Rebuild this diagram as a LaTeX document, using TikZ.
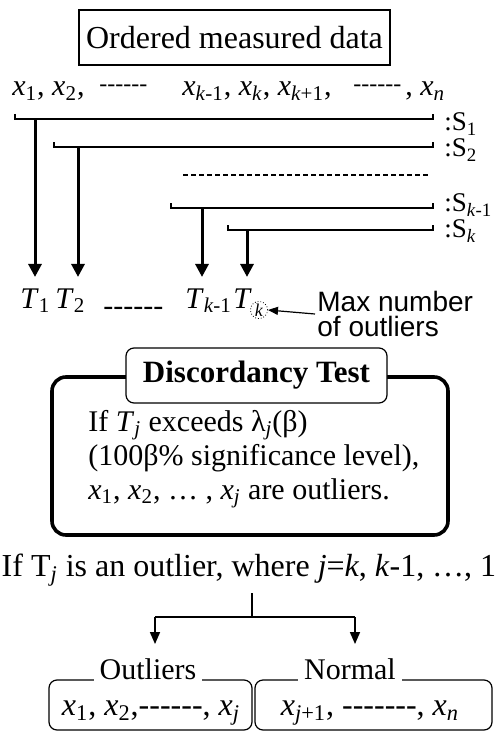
\documentclass[tikz,border=0pt]{standalone}
\usepackage{fontspec}
\setmainfont{Liberation Serif}
\newfontfamily\labelsans{Liberation Sans}
\usetikzlibrary{arrows.meta,calc}

\newcommand{\vsub}[2]{\textit{#1}\textsubscript{#2}}
\newcommand{\dashes}{-{}-{}-{}-{}-{}-}
\newcommand{\dashesseven}{-{}-{}-{}-{}-{}-{}-}

\tikzset{
  titlebox/.style={
    draw,
    line width=0.6pt,
    minimum width=155.5pt,
    minimum height=27.5pt,
    font=\fontsize{16}{18}\selectfont
  },
  datarow/.style={
    anchor=base west,
    inner sep=0pt
  },
  smalldash/.style={
    anchor=base west,
    inner sep=0pt,
    font=\fontsize{12}{14}\selectfont
  },
  bracket/.style={
    line width=0.8pt
  },
  heavyarrow/.style={
    line width=1.5pt,
    -{Triangle[length=6.5pt,width=6.5pt]},
    shorten >=5.5pt
  },
  thinarrow/.style={
    line width=0.8pt,
    -{Triangle[length=6pt,width=5pt]}
  },
  testframe/.style={
    line width=1.8pt,
    rounded corners=7pt
  },
  testtitle/.style={
    draw,
    fill=white,
    line width=0.6pt,
    rounded corners=4pt,
    minimum width=130.5pt,
    minimum height=27.5pt,
    font=\fontsize{15.5}{18}\selectfont\bfseries
  },
  setframe/.style={
    draw,
    line width=0.6pt,
    rounded corners=4pt,
    minimum height=25pt
  },
  legend/.style={
    fill=white,
    inner xsep=3pt,
    inner ysep=2pt
  }
}

\begin{document}
\begin{tikzpicture}[x=0.5pt,y=-0.5pt,font=\fontsize{15}{17}\selectfont]
  \useasboundingbox (0,0) rectangle (498,733);
  % ordered data
  \node[titlebox] (ordered) at (234.5,37.5) {Ordered measured data};
  \node[datarow] (x1) at (12,96) {\vsub{x}{1}, \vsub{x}{2},};
  \node[smalldash] (xdash1) at (99,91) {\dashes};
  \node[datarow] (xkm) at (182,96) {\vsub{x}{\textit{k}-1}, \vsub{x}{\textit{k}}, \vsub{x}{\textit{k}+1},};
  \node[smalldash] (xdash2) at (353,91) {\dashes};
  \node[datarow] (xn) at (405,96) {, \vsub{x}{\textit{n}}};

  % test statistics
  \node[datarow] (t1) at (20,308) {\vsub{T}{1}};
  \node[datarow] (t2) at (55,308) {\vsub{T}{2}};
  \node[datarow] (tdash) at (103,315) {\dashes};
  \node[datarow] (tkm) at (185,308) {\vsub{T}{\textit{k}-1}};
  \node[datarow] (tk) at (233,308) {\textit{T}};
  \node[circle, draw, densely dotted, line width=0.4pt, inner sep=0.4pt,
        font=\fontsize{9}{9}\selectfont] (kmark) at (259,310) {\textit{k}};

  % subsets S_i
  \foreach \xl/\yb/\yl/\xa/\tnode/\sidx [count=\i] in
      {15/119/124/35/t1/1, 54/147/150/78/t2/2, 171/208/205/202/tkm/{\textit{k}-1}, 228/230/231/247/tk/{\textit{k}}}{
    \draw[bracket] (\xl,\yb-5) |- (433,\yb) -- (433,\yb-5);
    \node[anchor=west, inner sep=1pt, font=\fontsize{13.5}{15}\selectfont] (s\i) at (442,\yl) {:S\textsubscript{\sidx}};
    \coordinate (a\i) at (\xa,\yb);
    \draw[heavyarrow] (a\i) -- (a\i |- \tnode.north);
  }
  \draw[bracket, dash pattern=on 2.5pt off 1.5pt] (183,175) -- (428,175);

  % max number
  \node[anchor=west, align=left, inner sep=1pt,
        font=\fontsize{14}{12.5}\selectfont\labelsans] (maxlbl) at (315,314) {Max number\\of outliers};
  \draw[line width=0.6pt, -{Triangle[length=5pt,width=4pt]}] (maxlbl.west) -- (kmark.east);

  % discordancy test
  \draw[testframe] (52,377) rectangle (448,535);
  \node[testtitle] (test) at (256.5,375.5) {Discordancy Test};
  \node[anchor=west, align=left, inner sep=0pt] (rule) at (88,459)
    {If \vsub{T}{\textit{j}} exceeds λ\textsubscript{\textit{j}}(β)\\(100β\% significance level),\\\vsub{x}{1}, \vsub{x}{2}, … , \vsub{x}{\textit{j}} are outliers.};

  % decision
  \node[font=\fontsize{16}{18}\selectfont] (cond) at (249,570)
    {If T\textsubscript{\textit{j}} is an outlier, where \textit{j}=\textit{k}, \textit{k}-1, …, 1};
  \coordinate (fork) at (252,617);
  \coordinate (forkl) at (155,617);
  \coordinate (forkr) at (355,617);
  \draw[line width=0.8pt] (cond.south -| fork) -- (fork);
  \draw[line width=0.8pt] (forkl) -- (forkr);

  \node[setframe, minimum width=101.5pt] (outset) at (150.5,705) {};
  \node[setframe, minimum width=118.5pt] (normset) at (373.5,705) {};
  \node[legend] (outlbl) at (148,669) {Outliers};
  \node[legend] (normlbl) at (350,669) {Normal};
  \node[font=\fontsize{16}{18}\selectfont] (outvals) at (151,713) {\vsub{x}{1}, \vsub{x}{2},\dashes, \vsub{x}{\textit{j}}};
  \node[font=\fontsize{16}{18}\selectfont] (normvals) at (370,713) {\vsub{x}{\textit{j}+1}, \dashesseven, \vsub{x}{\textit{n}}};
  \draw[thinarrow, shorten >=5pt] (forkl) -- (forkl |- outlbl.north);
  \draw[thinarrow, shorten >=5pt] (forkr) -- (forkr |- normlbl.north);
\end{tikzpicture}
\end{document}
